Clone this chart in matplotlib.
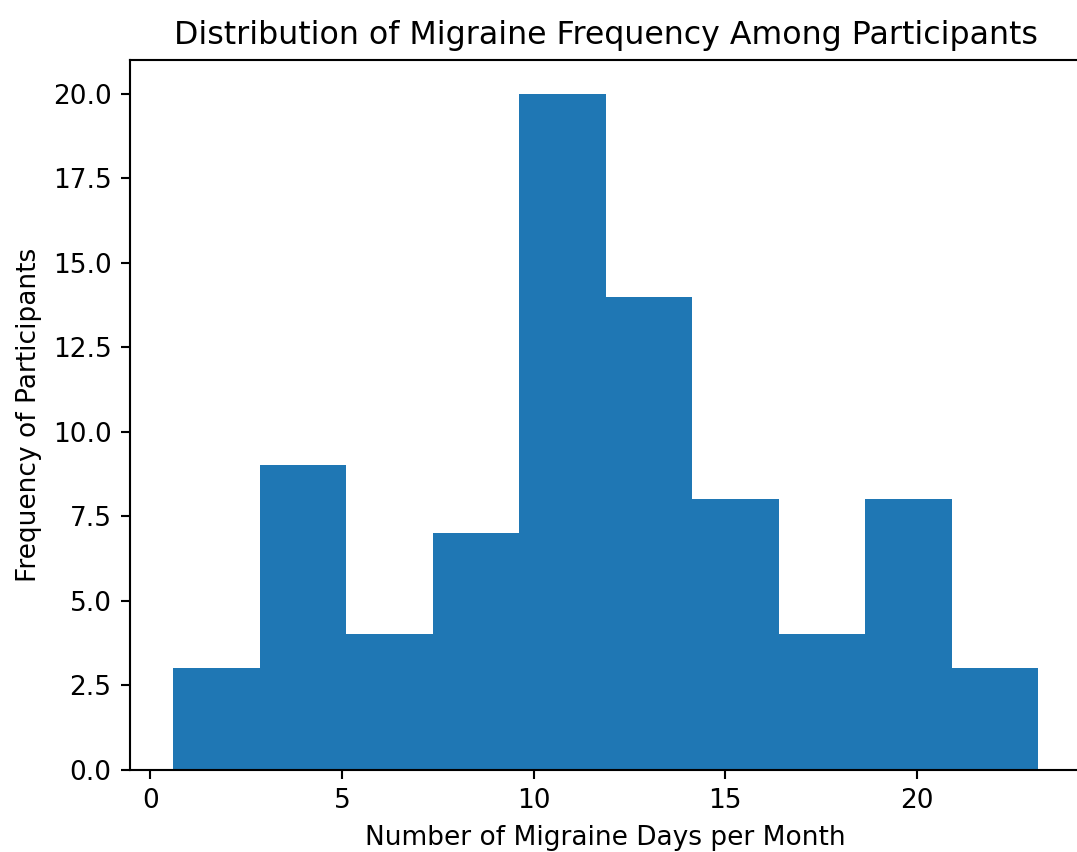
import matplotlib
matplotlib.use("Agg")
import matplotlib.pyplot as plt

# histogram bins (days per month) and participant counts
bin_edges = [0.60, 2.86, 5.11, 7.37, 9.62, 11.88, 14.13, 16.39, 18.64, 20.90, 23.15]
counts = [3, 9, 4, 7, 20, 14, 8, 4, 8, 3]

DPI = 190
fig = plt.figure(figsize=(1077 / DPI, 852 / DPI), dpi=DPI)
ax = fig.add_axes([130 / 1077, 82.5 / 852, 951 / 1077, 709.5 / 852])

ax.hist(bin_edges[:-1], bins=bin_edges, weights=counts, color="#1f77b4")

ax.set_title("Distribution of Migraine Frequency Among Participants")
ax.set_xlabel("Number of Migraine Days per Month")
ax.set_ylabel("Frequency of Participants")

fig.savefig("out.png", dpi=DPI)
